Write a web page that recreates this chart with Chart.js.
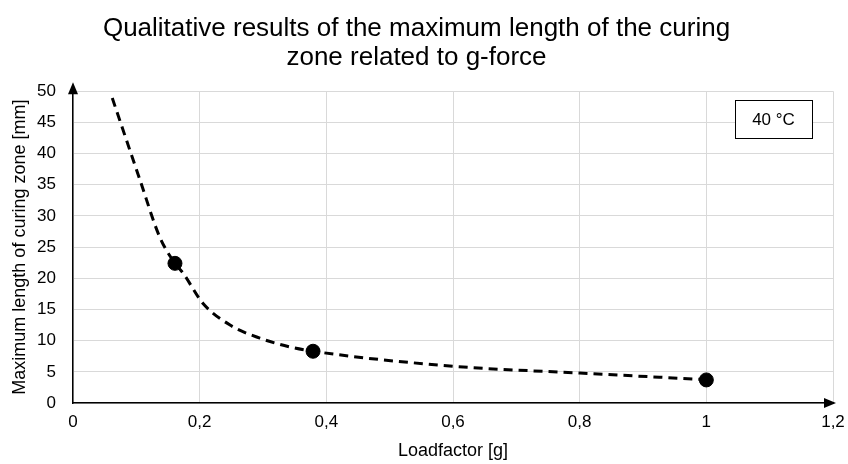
<!DOCTYPE html>
<html>
<head>
<meta charset="utf-8">
<script src="https://cdn.jsdelivr.net/npm/chart.js@4.4.0/dist/chart.umd.min.js"></script>
<style>
  html, body { margin: 0; padding: 0; background: #fff; }
  #wrap { width: 848px; height: 464px; }
</style>
</head>
<body>
<div id="wrap"><canvas id="chart" width="848" height="464"></canvas></div>
<script>
// measured points (loadfactor [g] -> length [mm])
const measuredX = [0.161, 0.379, 1.0];
const measuredY = [22.4, 8.3, 3.7];

// dashed trend curve
const trendX = [0.062, 0.106, 0.137, 0.161, 0.174, 0.205, 0.248, 0.295, 0.342, 0.379, 0.6, 0.8, 0.99];
const trendY = [48.9, 35.7, 26.6, 22.4, 20.8, 16.0, 12.5, 10.4, 9.0, 8.3, 5.9, 4.8, 3.8];

const xTicks = [0, 0.2, 0.4, 0.6, 0.8, 1, 1.2];
const yTicks = [0, 5, 10, 15, 20, 25, 30, 35, 40, 45, 50];
const boxLabel = '40 °C';

const fontFamily = '"Liberation Sans", Arial, sans-serif';

// arrow heads on the axes + the temperature box
const extras = {
    id: 'extras',
    afterDraw(chart) {
        const ctx = chart.ctx;
        const area = chart.chartArea;
        ctx.save();
        ctx.fillStyle = '#000';
        // y arrow
        ctx.beginPath();
        ctx.moveTo(area.left, area.top - 9);
        ctx.lineTo(area.left - 5, area.top + 3);
        ctx.lineTo(area.left + 5, area.top + 3);
        ctx.closePath();
        ctx.fill();
        // x arrow
        ctx.beginPath();
        ctx.moveTo(area.right + 3, area.bottom);
        ctx.lineTo(area.right - 9, area.bottom - 5);
        ctx.lineTo(area.right - 9, area.bottom + 5);
        ctx.closePath();
        ctx.fill();

        // label box
        const bx = 735, by = 100, bw = 77, bh = 38;
        ctx.fillStyle = '#fff';
        ctx.fillRect(bx, by, bw, bh);
        ctx.strokeStyle = '#000';
        ctx.lineWidth = 1;
        ctx.strokeRect(bx + 0.5, by + 0.5, bw, bh);
        ctx.fillStyle = '#000';
        ctx.font = '17px ' + fontFamily;
        ctx.textAlign = 'center';
        ctx.textBaseline = 'middle';
        ctx.fillText(boxLabel, bx + bw / 2, by + bh / 2 + 1);
        ctx.restore();
    }
};

new Chart(document.getElementById('chart'), {
    type: 'scatter',
    data: {
        datasets: [
            {
                label: 'trend',
                data: trendX.map((x, i) => ({ x: x, y: trendY[i] })),
                showLine: true,
                borderColor: '#000',
                borderWidth: 3,
                borderDash: [9, 6],
                pointRadius: 0,
                cubicInterpolationMode: 'monotone',
                fill: false
            },
            {
                label: 'measured',
                data: measuredX.map((x, i) => ({ x: x, y: measuredY[i] })),
                backgroundColor: '#000',
                borderColor: '#000',
                pointRadius: 7
            }
        ]
    },
    options: {
        responsive: false,
        animation: false,
        layout: { padding: { left: 0, right: 15, top: 0, bottom: 0 } },
        plugins: {
            legend: { display: false },
            tooltip: { enabled: false },
            title: {
                display: true,
                text: ['Qualitative results of the maximum length of the curing', 'zone related to g-force'],
                color: '#000',
                font: { family: fontFamily, size: 26, weight: 'normal', lineHeight: 1.12 },
                padding: { top: 14, bottom: 19 }
            }
        },
        scales: {
            x: {
                type: 'linear',
                min: 0,
                max: 1.2,
                afterBuildTicks: (s) => { s.ticks = xTicks.map(v => ({ value: v })); },
                afterFit: (s) => { s.height = 61; s.paddingRight = 0; },
                ticks: {
                    color: '#000',
                    padding: 9,
                    maxRotation: 0,
                    font: { family: fontFamily, size: 17 },
                    callback: (v) => String(v).replace('.', ',')
                },
                grid: { color: '#d9d9d9', lineWidth: 1, drawTicks: false },
                border: { color: '#000', width: 1.5 },
                title: {
                    display: true,
                    text: 'Loadfactor [g]',
                    color: '#000',
                    font: { family: fontFamily, size: 18 },
                    padding: { top: 4, bottom: 2 }
                }
            },
            y: {
                type: 'linear',
                min: 0,
                max: 50,
                afterBuildTicks: (s) => { s.ticks = yTicks.map(v => ({ value: v })); },
                afterFit: (s) => { s.width = 73; },
                ticks: {
                    color: '#000',
                    padding: 17,
                    font: { family: fontFamily, size: 17 }
                },
                grid: { color: '#d9d9d9', lineWidth: 1, drawTicks: false },
                border: { color: '#000', width: 1.5 },
                title: {
                    display: true,
                    text: 'Maximum length of curing zone [mm]',
                    color: '#000',
                    font: { family: fontFamily, size: 18 },
                    padding: { top: 9, bottom: 0 }
                }
            }
        }
    },
    plugins: [extras]
});
</script>
</body>
</html>
